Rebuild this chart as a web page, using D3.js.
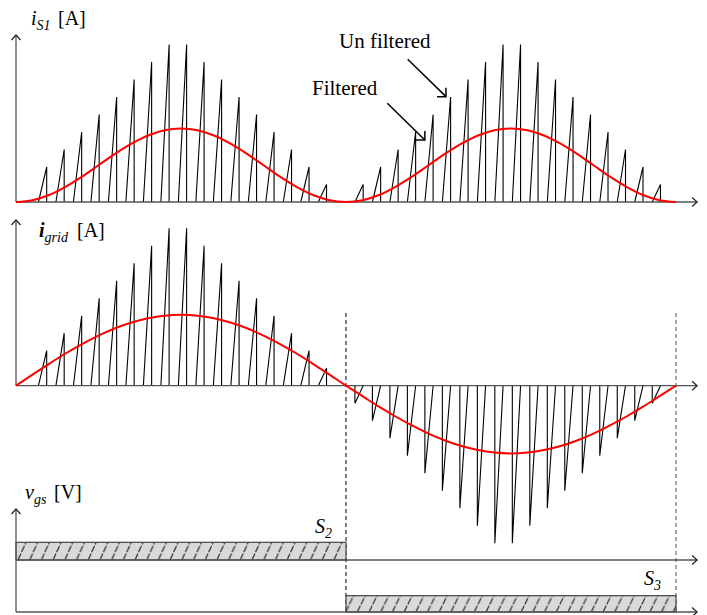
<!DOCTYPE html>
<html>
<head>
<meta charset="utf-8">
<script src="https://cdn.jsdelivr.net/npm/d3@7"></script>
<style>
  html, body { margin: 0; padding: 0; background: #fff; }
  svg { display: block; }
  text { font-family: "Liberation Serif", "Times New Roman", serif; fill: #000; }
</style>
</head>
<body>
<div id="chart"></div>
<script>
// ---------------- data (time in ms, current in A) ----------------
// Start times of the switching pulses, first half cycle (positive grid current)
const pulseStartsHalf1 = [0.68, 1.21, 1.74, 2.27, 2.80, 3.33, 3.86, 4.39, 4.92, 5.45, 5.98, 6.51, 7.04, 7.57, 8.10, 8.63, 9.16];
const pulsePeaksHalf1  = [2, 3, 4, 5, 6, 7, 8, 9, 9, 8, 7, 6, 5, 4, 3, 2, 1];
// Second half cycle (negative grid current)
const pulseStartsHalf2 = [10.27, 10.80, 11.33, 11.86, 12.39, 12.92, 13.45, 13.98, 14.51, 15.04, 15.57, 16.10, 16.63, 17.16, 17.69, 18.22, 18.75, 19.28];
const pulsePeaksHalf2  = [1, 2, 3, 4, 5, 6, 7, 8, 9, 9, 8, 7, 6, 5, 4, 3, 2, 1];
const rampWidth = 0.25; // ms, duration of the rising edge of each pulse

// Filtered currents sampled every 0.5 ms
const filterTimes = [0,0.5,1,1.5,2,2.5,3,3.5,4,4.5,5,5.5,6,6.5,7,7.5,8,8.5,9,9.5,10,
                     10.5,11,11.5,12,12.5,13,13.5,14,14.5,15,15.5,16,16.5,17,17.5,18,18.5,19,19.5,20];
const filteredS1 = [0,0.10,0.40,0.87,1.45,2.10,2.75,3.33,3.80,4.10,4.20,4.10,3.80,3.33,2.75,2.10,1.45,0.87,0.40,0.10,0,
                    0.10,0.40,0.87,1.45,2.10,2.75,3.33,3.80,4.10,4.20,4.10,3.80,3.33,2.75,2.10,1.45,0.87,0.40,0.10,0];
const filteredGrid = [0,0.63,1.25,1.84,2.38,2.86,3.28,3.61,3.85,4.00,4.05,4.00,3.85,3.61,3.28,2.86,2.38,1.84,1.25,0.63,0,
                      -0.60,-1.20,-1.76,-2.27,-2.74,-3.13,-3.45,-3.68,-3.82,-3.87,-3.82,-3.68,-3.45,-3.13,-2.74,-2.27,-1.76,-1.20,-0.60,0];

// Gate signals: [on, off] in ms
const gateS2 = [0, 10];
const gateS3 = [10, 20];
const dashTimes = [10, 20];

// ---------------- layout ----------------
const W = 707, H = 615;
const svg = d3.select("#chart").append("svg").attr("width", W).attr("height", H);

const x = d3.scaleLinear().domain([0, 20]).range([16, 676]);
const xAxisEnd = 20.64;
const pxPerA = 17.5;
const yTop = d3.scaleLinear().domain([0, 1]).range([202, 202 - pxPerA]);
const yMid = d3.scaleLinear().domain([0, 1]).range([385.7, 385.7 - pxPerA]);
const yG2 = d3.scaleLinear().domain([0, 1]).range([560, 542.3]);
const yG3 = d3.scaleLinear().domain([0, 1]).range([612, 595.7]);

const axisColor = "#555";

// defs: hatch pattern
const defs = svg.append("defs");
function hatch(id, y0, h) {
  const p = defs.append("pattern").attr("id", id)
    .attr("patternUnits", "userSpaceOnUse")
    .attr("x", x(0) + 2).attr("y", y0)
    .attr("width", 11.7).attr("height", h);
  p.append("rect").attr("width", 11.7).attr("height", h).attr("fill", "#d9d9d9");
  p.append("line").attr("x1", 0).attr("y1", h).attr("x2", 8).attr("y2", 0)
    .attr("stroke", "#2a2a2a").attr("stroke-width", 1.2).attr("stroke-dasharray", "7,1.5");
}
hatch("hatch2", 542.3, 17.7);
hatch("hatch3", 595.7, 16.3);

// helpers
function hAxis(y0, xEnd) {
  svg.append("line").attr("x1", x(0)).attr("x2", x(xEnd)).attr("y1", y0).attr("y2", y0)
    .attr("stroke", axisColor).attr("stroke-width", 1.3);
  svg.append("path").attr("d", `M${x(xEnd) - 5},${y0 - 4.5}L${x(xEnd)},${y0}L${x(xEnd) - 5},${y0 + 4.5}`)
    .attr("fill", "none").attr("stroke", "#222").attr("stroke-width", 1.2);
}
function vAxis(yBottom, yTopPx) {
  svg.append("line").attr("x1", x(0)).attr("x2", x(0)).attr("y1", yBottom).attr("y2", yTopPx)
    .attr("stroke", axisColor).attr("stroke-width", 1.3);
  svg.append("path").attr("d", `M${x(0) - 4.5},${yTopPx + 5}L${x(0)},${yTopPx}L${x(0) + 4.5},${yTopPx + 5}`)
    .attr("fill", "none").attr("stroke", "#222").attr("stroke-width", 1.2);
}

const line = d3.line();

function positivePulses(ys, starts, peaks) {
  starts.forEach((s, i) => {
    const pts = [[x(s), ys(0)], [x(s + rampWidth), ys(peaks[i])], [x(s + rampWidth), ys(0)]];
    svg.append("path").attr("d", line(pts)).attr("fill", "none")
      .attr("stroke", "#000").attr("stroke-width", 1.1);
  });
}
function negativePulses(ys, starts, peaks) {
  starts.forEach((s, i) => {
    const pts = [[x(s), ys(0)], [x(s), ys(-peaks[i])], [x(s + rampWidth), ys(0)]];
    svg.append("path").attr("d", line(pts)).attr("fill", "none")
      .attr("stroke", "#000").attr("stroke-width", 1.1);
  });
}
function redCurve(ys, vals) {
  const l = d3.line().x((d, i) => x(filterTimes[i])).y(d => ys(d)).curve(d3.curveMonotoneX);
  svg.append("path").attr("d", l(vals)).attr("fill", "none")
    .attr("stroke", "#ff0000").attr("stroke-width", 2);
}

// ---------------- top panel: i_S1 ----------------
positivePulses(yTop, pulseStartsHalf1, pulsePeaksHalf1);
positivePulses(yTop, pulseStartsHalf2, pulsePeaksHalf2);
hAxis(yTop(0), xAxisEnd);
vAxis(yTop(0), 35);
redCurve(yTop, filteredS1);

// ---------------- middle panel: i_grid ----------------
svg.append("line").attr("x1", x(dashTimes[0])).attr("x2", x(dashTimes[0])).attr("y1", 313).attr("y2", 612)
  .attr("stroke", "#000").attr("stroke-width", 1).attr("stroke-dasharray", "4,3");
svg.append("line").attr("x1", x(dashTimes[1])).attr("x2", x(dashTimes[1])).attr("y1", 313).attr("y2", 612)
  .attr("stroke", "#777").attr("stroke-width", 1.3).attr("stroke-dasharray", "4,3");

positivePulses(yMid, pulseStartsHalf1, pulsePeaksHalf1);
negativePulses(yMid, pulseStartsHalf2, pulsePeaksHalf2);
hAxis(yMid(0), xAxisEnd);
vAxis(yMid(0), 220);
redCurve(yMid, filteredGrid);

// ---------------- bottom panel: v_gs ----------------
svg.append("rect").attr("x", x(gateS2[0])).attr("y", yG2(1))
  .attr("width", x(gateS2[1]) - x(gateS2[0])).attr("height", yG2(0) - yG2(1))
  .attr("fill", "url(#hatch2)").attr("stroke", "#444").attr("stroke-width", 1.2);
svg.append("rect").attr("x", x(gateS3[0])).attr("y", yG3(1))
  .attr("width", x(gateS3[1]) - x(gateS3[0])).attr("height", yG3(0) - yG3(1))
  .attr("fill", "url(#hatch3)").attr("stroke", "#444").attr("stroke-width", 1.2);
hAxis(yG2(0), xAxisEnd);
hAxis(yG3(0), xAxisEnd);
vAxis(yG3(0), 509);

// ---------------- labels ----------------
function axisLabel(xp, yp, main, sub, unit, unitX, bold) {
  const t = svg.append("text").attr("x", xp).attr("y", yp).attr("font-size", 20);
  t.append("tspan").attr("font-style", "italic").attr("font-weight", bold ? "bold" : "normal").text(main);
  t.append("tspan").attr("font-style", "italic").attr("font-size", 14).attr("dy", 4.5).text(sub);
  if (unit) t.append("tspan").attr("x", unitX).attr("dy", -4.5).text(unit);
}
axisLabel(31, 25, "i", "S1", "[A]", 58, false);
axisLabel(39, 237.3, "i", "grid", "[A]", 77, true);
axisLabel(25, 499.3, "v", "gs", "[V]", 54, false);
axisLabel(315, 533, "S", "2", null, 0, false);
axisLabel(644, 585, "S", "3", null, 0, false);

// annotations
svg.append("text").attr("x", 339).attr("y", 48.3).attr("font-size", 21).text("Un filtered");
svg.append("text").attr("x", 312).attr("y", 95).attr("font-size", 21).text("Filtered");

function annArrow(x1, y1, tipT, tipV) {
  const tx = x(tipT), ty = yTop(tipV);
  svg.append("line").attr("x1", x1).attr("y1", y1).attr("x2", tx).attr("y2", ty)
    .attr("stroke", "#000").attr("stroke-width", 1.5);
  svg.append("path").attr("d", `M${tx - 9},${ty}L${tx},${ty}L${tx},${ty - 9}`)
    .attr("fill", "none").attr("stroke", "#000").attr("stroke-width", 1.5);
}
annArrow(407.7, 59.3, 13.03, 6.02);
annArrow(387.3, 103.3, 12.39, 3.54);
</script>
</body>
</html>
